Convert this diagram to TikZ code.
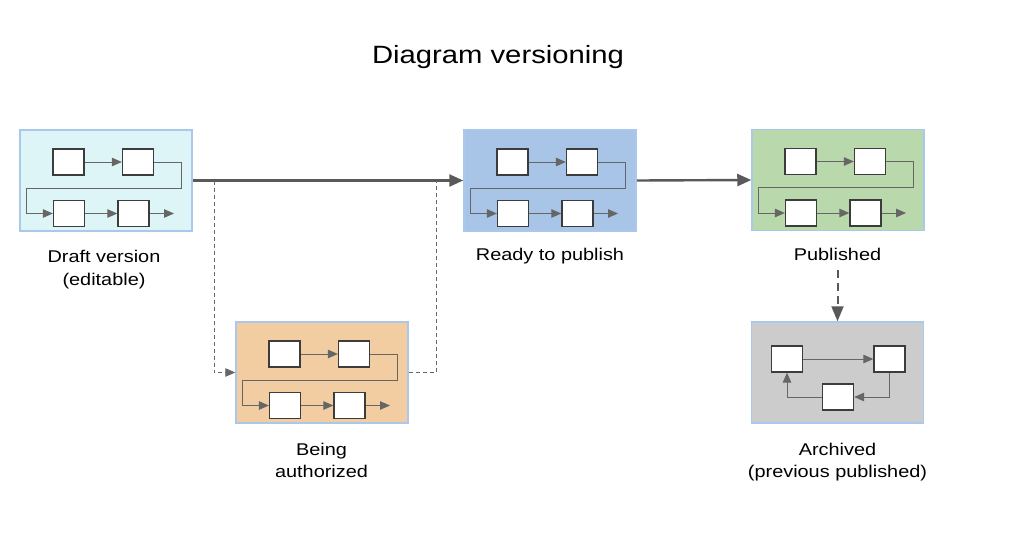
\documentclass[tikz,border=0pt]{standalone}
\usepackage{fontspec}
\usepackage{graphicx}
\setmainfont{Liberation Sans}
\usetikzlibrary{arrows.meta}
\definecolor{bordc}{HTML}{A9C8EC}
\definecolor{draftc}{HTML}{DDF5F7}
\definecolor{readyc}{HTML}{A8C5E8}
\definecolor{pubc}{HTML}{B9D8AB}
\definecolor{beingc}{HTML}{F1CDA1}
\definecolor{archc}{HTML}{CCCCCC}
\definecolor{boxline}{HTML}{3C3C3C}
\definecolor{flowc}{HTML}{666666}
\definecolor{mainc}{HTML}{595959}
\newcommand{\hs}[1]{\scalebox{1.17}[1]{#1}}
\tikzset{
  container/.style={draw=bordc, line width=1.5pt, minimum width=172pt, minimum height=101pt, inner sep=0pt},
  inbox/.style={draw=boxline, fill=white, line width=1.3pt, minimum width=31pt, minimum height=26pt, inner sep=0pt},
  flow/.style={draw=flowc, line width=1pt, -{Triangle[length=10pt,width=8.5pt]}},
  mainarrow/.style={draw=mainc, line width=2.4pt, -{Triangle[length=14pt,width=12pt]}},
  dashlink/.style={draw=flowc, line width=1pt, dash pattern=on 4pt off 3pt, -{Triangle[length=10pt,width=8.5pt]}},
  dashthick/.style={draw=mainc, line width=2pt, dash pattern=on 8pt off 5pt, -{Triangle[length=15pt,width=12pt]}},
  lbl/.style={font=\fontsize{17}{23}\selectfont, inner sep=0pt, anchor=base},
  ttl/.style={font=\fontsize{25}{30}\selectfont, inner sep=0pt, anchor=base},
}
% #1 prefix, #2 x, #3 y (top-left of container), #4 fill
\newcommand{\linearflow}[4]{%
  \node[container, fill=#4] (#1) at (#2+86,#3+50.5) {};
  \begin{scope}[shift={(#2,#3)}]
    \node[inbox] (#1a) at (48.5,32) {};
    \node[inbox] (#1b) at (118,32) {};
    \node[inbox] (#1c) at (49,83.5) {};
    \node[inbox] (#1d) at (113.5,83.5) {};
    \coordinate (#1r) at (161,58);
    \coordinate (#1l) at (6,58);
    \coordinate (#1e) at (154,83.5);
    \draw[flow] (#1a) -- (#1b);
    \draw[flow] (#1b.east) -| (#1r) -- (#1l) |- (#1c.west);
    \draw[flow] (#1c) -- (#1d);
    \draw[flow] (#1d.east) -- (#1e);
  \end{scope}%
}
\begin{document}
\begin{tikzpicture}[x=1pt,y=-1pt]
\useasboundingbox[fill=white] (0,0) rectangle (1024,536);

\node[ttl] (title) at (498,63) {\hs{Diagram versioning}};

\linearflow{draft}{20}{130}{draftc}
\linearflow{ready}{464}{130}{readyc}
\linearflow{pub}{752}{129.5}{pubc}
\linearflow{being}{236}{322}{beingc}

% archived cycle
\node[container, fill=archc] (arch) at (837.5,372.5) {};
\node[inbox] (archa) at (787,359) {};
\node[inbox] (archb) at (889.5,359) {};
\node[inbox] (archc) at (838,397) {};
\draw[flow] (archa) -- (archb);
\draw[flow] (archb.south) |- (archc.east);
\draw[flow] (archc.west) -| (archa.south);

% labels
\node[lbl] (draftl1) at (104,262) {\hs{Draft version}};
\node[lbl] (draftl2) at (104,285) {\hs{(editable)}};
\node[lbl] (readyl) at (550,260) {\hs{Ready to publish}};
\node[lbl] (publ) at (837.5,260) {\hs{Published}};
\node[lbl] (beingl1) at (321.5,455) {\hs{Being}};
\node[lbl] (beingl2) at (321.5,477) {\hs{authorized}};
\node[lbl] (archl1) at (837.5,455) {\hs{Archived}};
\node[lbl] (archl2) at (837.5,477) {\hs{(previous published)}};

% main connectors
\draw[mainarrow] (draft.east) -- (ready.west);
\draw[mainarrow] (ready.east) -- (pub.west);

% dashed review loop
\coordinate (split) at (214,180.5);
\coordinate (join) at (436,180.5);
\draw[dashlink] (split) |- (being.west);
\draw[draw=flowc, line width=1pt, dash pattern=on 4pt off 3pt] (being.east) -| (join);

% archive
\draw[dashthick] (publ.south) ++(0,10) coordinate (pubdash) -- (arch.north);
\end{tikzpicture}
\end{document}
